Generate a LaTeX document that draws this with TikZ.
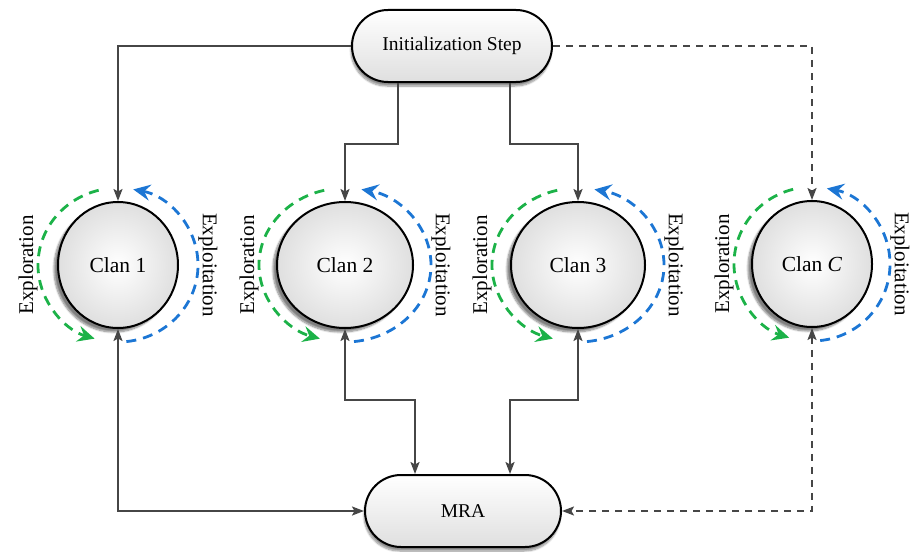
\documentclass[tikz,border=0pt]{standalone}
\usepackage{fontspec}
\setmainfont{Liberation Serif}
\usetikzlibrary{arrows.meta,shapes.misc,shapes.geometric,shadows.blur,calc}

\definecolor{expgreen}{RGB}{28,178,72}
\definecolor{expblue}{RGB}{28,118,212}
\definecolor{connclr}{RGB}{70,70,70}

\tikzset{
  boxshape/.style={rounded rectangle, draw=black, line width=2pt,
    top color=white, bottom color=gray!25, minimum width=200pt,
    minimum height=72pt, inner sep=0pt,
    blur shadow={shadow xshift=-1pt, shadow yshift=-4pt, shadow blur steps=8, shadow opacity=45},
    font=\fontsize{19.5}{22}\selectfont},
  clanshape/.style={ellipse, draw=black, line width=2pt,
    inner color=white, outer color=gray!25, minimum height=126pt, inner sep=0pt,
    blur shadow={shadow xshift=-4pt, shadow yshift=-4pt, shadow blur steps=8, shadow opacity=50},
    font=\fontsize{21.5}{24}\selectfont},
  conn/.style={draw=connclr, line width=2pt,
    arrows={-Stealth[length=12pt,width=9pt,inset=2.5pt]}},
  conntwo/.style={draw=connclr, line width=2pt,
    arrows={Stealth[length=12pt,width=9pt,inset=2.5pt]-Stealth[length=12pt,width=9pt,inset=2.5pt]}},
  conndash/.style={conn, dash pattern=on 7pt off 6pt},
  conntwodash/.style={conntwo, dash pattern=on 7pt off 6pt},
  arcgreen/.style={draw=expgreen, line width=2.8pt, dash pattern=on 10pt off 7pt,
    arrows={-Stealth[length=17pt,width=16pt,inset=6pt,fill=expgreen]}},
  arcblue/.style={draw=expblue, line width=2.8pt, dash pattern=on 10pt off 7pt,
    arrows={-Stealth[length=17pt,width=16pt,inset=6pt,fill=expblue]}},
  arclabel/.style={font=\fontsize{21}{24}\selectfont, inner sep=0pt},
}

% Exploration / exploitation loops around a clan node: #1 node, #2 horizontal radius
\newcommand\clanloops[2]{%
  \begin{scope}[shift={(#1.center)}, x=1pt, y=1pt]
    \draw[arcgreen] (104:#2 and 77) arc[start angle=104, end angle=253, x radius=#2, y radius=77];
    \draw[arcblue] (-84:#2 and 77) arc[start angle=-84, end angle=79, x radius=#2, y radius=77];
    \node[arclabel, rotate=90] (#1-explore) at (-#2-10, 0) {Exploration};
    \node[arclabel, rotate=-90] (#1-exploit) at (#2+10, 0) {Exploitation};
  \end{scope}}

\begin{document}
\begin{tikzpicture}[x=1pt, y=-1pt]
  \useasboundingbox (0,0) rectangle (920,551);

  % process nodes
  \node[boxshape] (init) at (452,46) {Initialization Step};
  \node[boxshape, minimum width=196pt] (mra) at (463,511) {MRA};

  % clans
  \node[clanshape, minimum width=120pt] (c1) at (118,265) {Clan 1};
  \node[clanshape, minimum width=136pt] (c2) at (345,265) {Clan 2};
  \node[clanshape, minimum width=134pt] (c3) at (578,265) {Clan 3};
  \node[clanshape, minimum width=120pt] (cC) at (812,264) {Clan \textit{C}};

  \clanloops{c1}{80}
  \clanloops{c2}{86}
  \clanloops{c3}{86}
  \clanloops{cC}{78}

  % initialization to clans
  \draw[conn] (init.west) -| (c1.north);
  \draw[conn] ([xshift=-54pt]init.south) -- ++(0,61) -| (c2.north);
  \draw[conn] ([xshift=58pt]init.south) -- ++(0,61) -| (c3.north);
  \draw[conndash] (init.east) -| (cC.north);

  % clans exchanging with MRA
  \draw[conntwo] (c1.south) |- (mra.west);
  \draw[conntwo] (c2.south) -- ++(0,71) -| ([xshift=-48pt]mra.north);
  \draw[conntwo] (c3.south) -- ++(0,71) -| ([xshift=47pt]mra.north);
  \draw[conntwodash] (cC.south) |- (mra.east);
\end{tikzpicture}
\end{document}
